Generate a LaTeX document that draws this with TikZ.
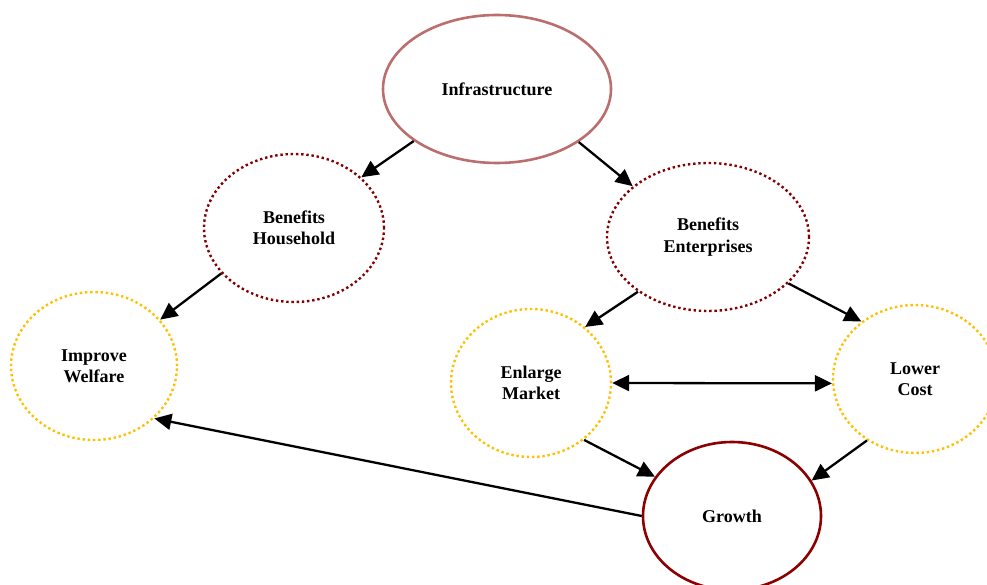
\documentclass[tikz,border=0pt]{standalone}
\usepackage{fontspec}
\setmainfont{Liberation Serif}
\usetikzlibrary{shapes.geometric,arrows.meta}

\definecolor{infra}{RGB}{188,110,110}
\definecolor{darkdot}{RGB}{130,0,0}
\definecolor{golddot}{RGB}{255,192,0}
\definecolor{growthred}{RGB}{140,0,0}

\tikzset{
  bubble/.style={ellipse, inner sep=0pt, align=center,
    font=\fontsize{18}{21.5}\selectfont\bfseries, text=black},
  solidring/.style={bubble, line width=2.6pt},
  dotring/.style={bubble, line width=2.4pt, dash pattern=on 2.4pt off 2.8pt},
  link/.style={line width=2.3pt, -{Triangle[length=17pt,width=16pt]}},
  twolink/.style={line width=2.3pt, {Triangle[length=17pt,width=16pt]}-{Triangle[length=17pt,width=16pt]}},
}

\begin{document}
\begin{tikzpicture}[x=1pt,y=-1pt]
\useasboundingbox (0,0) rectangle (987,585);
\clip (0,0) rectangle (987,585);

% nodes
\node[solidring, draw=infra, minimum width=228pt, minimum height=148pt] (inf) at (497,89) {Infrastructure};
\node[dotring, draw=darkdot, minimum width=180pt, minimum height=148pt] (hh) at (294,228) {Benefits\\Household};
\node[dotring, draw=darkdot, minimum width=202pt, minimum height=148pt] (be) at (708,237) {Benefits\\Enterprises};
\node[dotring, draw=golddot, minimum width=166pt, minimum height=148pt] (iw) at (94,366) {Improve\\Welfare};
\node[dotring, draw=golddot, minimum width=160pt, minimum height=148pt] (em) at (531,383) {Enlarge\\Market};
\node[dotring, draw=golddot, minimum width=164pt, minimum height=148pt] (lc) at (915,379) {Lower\\Cost};
\node[solidring, draw=growthred, minimum width=178pt, minimum height=148pt] (gr) at (732,516) {Growth};

% connectors
\draw[link] (inf.212) -- (hh.37);
\draw[link] (inf.327) -- (be.146);
\draw[link] (hh.212) -- (iw.35);
\draw[link] (be.218) -- (em.46);
\draw[link] (be.330) -- (lc.133);
\draw[twolink] (em.0) -- (lc.183);
\draw[link] (em.313) -- (gr.153);
\draw[link] (lc.232) -- (gr.24);
\draw[link] (gr.180) -- (iw.319);
\end{tikzpicture}
\end{document}
